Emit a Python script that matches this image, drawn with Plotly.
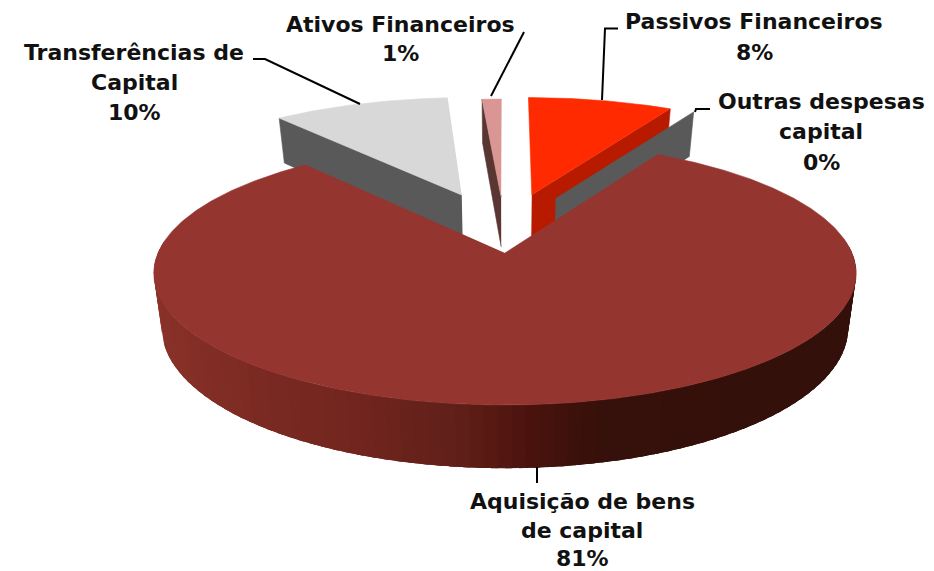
import plotly.graph_objects as go
import numpy as np

# ---- data -------------------------------------------------------------
categories = ["Passivos Financeiros", "Outras despesas capital", "Aquisição de bens de capital",
              "Transferências de Capital", "Ativos Financeiros"]
shares = [8.2, 0.1, 80.6, 10.0, 1.1]
label_lines = [["Passivos Financeiros"], ["Outras despesas", "capital"], ["Aquisição de bens", "de capital"],
               ["Transferências de", "Capital"], ["Ativos Financeiros"]]

# ---- styles -----------------------------------------------------------
top_colors = ["#ff2a00", "#595959", "#953530", "#d8d8d8", "#d99694"]
face_colors = ["#b81a00", "#595959", "#5a1a14", "#595959", "#5a3632"]
# slice explosion on the pie plane (unit = pie radius)
explode = [(0.083, 0.4845), (0.156, 0.453), (0.0, 0.0), (-0.134, 0.4845), (-0.012, 0.467)]

# ---- perspective model of the 3-D pie ------------------------------------
CX, CY, A, B, K, DEPTH, SHRINK = 505, 253, 347, 128.6, 0.154, 53.5, 0.977


def project(u, v, down=False):
    s = 1 / (1 + K * v)
    x = A * u * s
    y = -B * v * s
    if down:
        x = x * SHRINK
        y = y + DEPTH * s
    return CX + x, CY + y


def edge(theta, off):
    t = np.radians(theta)
    return off[0] + np.sin(t), off[1] + np.cos(t)


edges = np.concatenate([[0], np.cumsum(shares)]) / sum(shares) * 360

fig = go.Figure()


def poly(xs, ys, color, name, lw=0.6):
    fig.add_trace(go.Scatter(x=list(xs), y=list(ys), mode="lines", fill="toself", fillcolor=color,
                             line=dict(color=color, width=lw), hoverinfo="skip", showlegend=False, name=name))


def top_face(i):
    a, b = edges[i], edges[i + 1]
    off = explode[i]
    ts = np.linspace(a, b, max(int(b - a) * 2, 2))
    pts = [off] + [edge(t, off) for t in ts]
    xs, ys = zip(*[project(*p) for p in pts])
    poly(xs, ys, top_colors[i], categories[i])


def cut_face(i, theta):
    off = explode[i]
    c = edge(theta, off)
    p = [project(*off), project(*c), project(*c, down=True), project(*off, down=True)]
    xs, ys = zip(*p)
    poly(xs, ys, face_colors[i], categories[i])


# back slices, painted far to near
cut_face(3, edges[3])
top_face(3)
cut_face(4, edges[4])
top_face(4)
cut_face(0, edges[1])
top_face(0)
cut_face(1, edges[2])

# rim of the big slice, shaded by overlapping strips (painted right to left)
stop_x = [155, 250, 350, 450, 490, 530, 600, 860]
stop_r = [0x8a, 0x7c, 0x72, 0x62, 0x5a, 0x4a, 0x37, 0x33]
stop_g = [0x32, 0x2b, 0x26, 0x20, 0x1a, 0x13, 0x10, 0x10]
stop_b = [0x29, 0x23, 0x1f, 0x1a, 0x14, 0x0e, 0x0a, 0x0a]
ths = np.arange(85, 275.01, 2.0)
for t0 in ths[:-1]:
    t1 = min(t0 + 5.0, 275.0)
    arc = [edge(t, explode[2]) for t in np.linspace(t0, t1, 6)]
    q = [project(*p) for p in arc] + [project(*p, down=True) for p in arc[::-1]]
    xs, ys = zip(*q)
    sx = project(*edge(t0 + 1.0, explode[2]))[0]
    col = "rgb(%d,%d,%d)" % (np.interp(sx, stop_x, stop_r), np.interp(sx, stop_x, stop_g), np.interp(sx, stop_x, stop_b))
    poly(xs, ys, col, categories[2], lw=0)
top_face(2)

# leader lines
leaders = [
    ([618, 605, 602], [28.5, 28.5, 100]),
    ([710, 696, 695], [109, 109, 112]),
    ([537, 537], [467, 483]),
    ([253, 265, 360], [59, 59, 104]),
    ([524, 491], [32, 96]),
]
for lx, ly in leaders:
    fig.add_trace(go.Scatter(x=lx, y=ly, mode="lines", line=dict(color="black", width=2),
                             hoverinfo="skip", showlegend=False))

# labels
label_x = [754, 821, 582, 134, 400]
label_y = [[21, 52], [101, 131, 162], [501, 530, 558.5], [52, 82, 112], [24, 53]]
for i in range(len(categories)):
    lines = label_lines[i] + [f"{round(shares[i])}%"]
    for txt, y in zip(lines, label_y[i]):
        fig.add_annotation(x=label_x[i], y=y, text=f"<b>{txt}</b>", showarrow=False, xanchor="center",
                           yanchor="middle", font=dict(family="DejaVu Sans", size=22, color="#111111"))

fig.update_layout(width=934, height=571, margin=dict(l=0, r=0, t=0, b=0), paper_bgcolor="white",
                  plot_bgcolor="white", showlegend=False,
                  xaxis=dict(range=[0, 934], visible=False, fixedrange=True),
                  yaxis=dict(range=[571, 0], visible=False, fixedrange=True))
fig.write_html("out.html", config=dict(displayModeBar=False),
               post_script="document.body.style.margin='0';document.documentElement.style.overflow='hidden';")
